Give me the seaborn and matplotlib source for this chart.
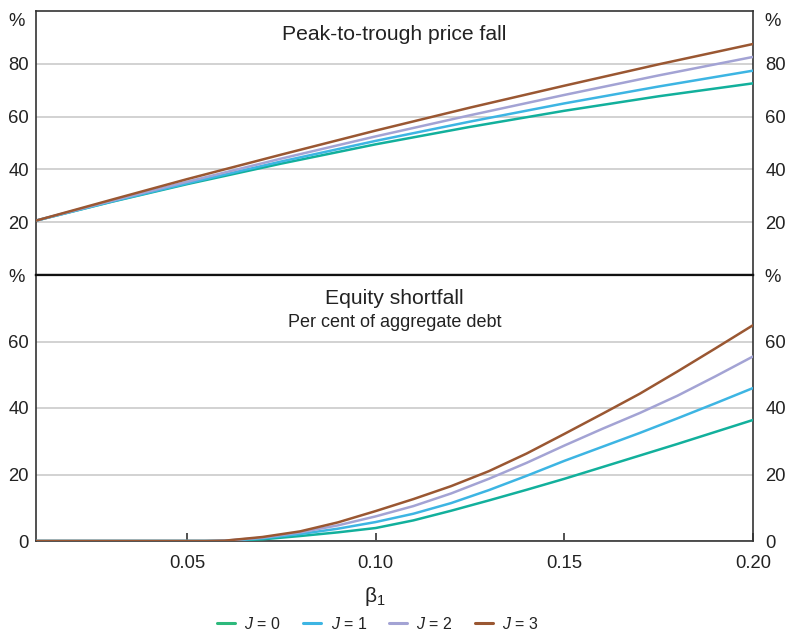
import matplotlib
matplotlib.use("Agg")
import matplotlib.pyplot as plt
import seaborn as sns
import pandas as pd
from matplotlib.lines import Line2D

sns.set_theme(style="white")
plt.rcParams['font.family'] = ['Liberation Sans', 'DejaVu Sans']
plt.rcParams['mathtext.fontset'] = 'custom'
plt.rcParams['mathtext.it'] = 'Liberation Sans:italic'
plt.rcParams['mathtext.rm'] = 'Liberation Sans'

# ---- data ----
series_labels = ["J = 0", "J = 1", "J = 2", "J = 3"]
colors = ["#12b09c", "#3db5e3", "#a3a3d4", "#9a5732"]
legend_colors = ["#2db97c", "#3db5e3", "#a3a3d4", "#9a5732"]

beta_price = [0.01, 0.03, 0.05, 0.075, 0.10, 0.125, 0.15, 0.175, 0.20]
price_j0 = [20.6, 27.7, 34.4, 42.2, 49.5, 56.1, 62.2, 67.7, 72.6]
price_j1 = [20.6, 27.8, 34.7, 43.0, 50.8, 58.1, 65.0, 71.4, 77.4]
price_j2 = [20.6, 28.1, 35.3, 44.1, 52.5, 60.5, 68.2, 75.6, 82.6]
price_j3 = [20.6, 28.5, 36.3, 45.6, 54.7, 63.4, 71.7, 79.8, 87.5]

beta_short = [0.01, 0.055, 0.06, 0.07, 0.08, 0.09, 0.10, 0.11, 0.12, 0.13,
              0.14, 0.15, 0.16, 0.17, 0.18, 0.19, 0.20]
short_j0 = [0, 0, 0.05, 0.5, 1.5, 2.6, 3.9, 6.2, 9.1, 12.2, 15.4, 18.7, 22.2, 25.7, 29.2, 32.8, 36.4]
short_j1 = [0, 0, 0.05, 0.8, 2.1, 3.7, 5.7, 8.2, 11.4, 15.3, 19.6, 24.1, 28.3, 32.5, 36.9, 41.4, 46.0]
short_j2 = [0, 0, 0.1, 1.0, 2.6, 4.7, 7.4, 10.5, 14.3, 18.7, 23.5, 28.7, 33.7, 38.5, 43.7, 49.5, 55.5]
short_j3 = [0, 0, 0.1, 1.2, 2.9, 5.6, 9.0, 12.6, 16.5, 21.0, 26.3, 32.2, 38.2, 44.3, 51.0, 57.9, 64.9]

x_ticks = [0.05, 0.10, 0.15, 0.20]
x_ticklabels = ["0.05", "0.10", "0.15", "0.20"]
top_yticks = [20, 40, 60, 80]
bot_yticks = [0, 20, 40, 60]


def long_df(x, ys):
    rows = []
    for lab, y in zip(series_labels, ys):
        for xi, yi in zip(x, y):
            rows.append({"beta": xi, "val": yi, "J": lab})
    return pd.DataFrame(rows)


df_price = long_df(beta_price, [price_j0, price_j1, price_j2, price_j3])
df_short = long_df(beta_short, [short_j0, short_j1, short_j2, short_j3])
palette = dict(zip(series_labels, colors))

fig = plt.figure(figsize=(7.88, 6.31), dpi=100)
L, R = 36 / 788, 753 / 788
ax1 = fig.add_axes([L, 1 - 275 / 631, R - L, 264 / 631])
ax2 = fig.add_axes([L, 1 - 541 / 631, R - L, 266 / 631])

tick_fs = 13.3
txt_col = "#222222"
spine_col = "#333333"

for ax, df, ylim, yt, pct_y in [(ax1, df_price, (0, 100), top_yticks, 0.960),
                                (ax2, df_short, (0, 80), bot_yticks, 0.990)]:
    sns.lineplot(data=df, x="beta", y="val", hue="J", palette=palette,
                 linewidth=1.8, ax=ax, legend=False, zorder=3)
    ax.set_xlim(0.01, 0.20)
    ax.set_ylim(*ylim)
    ax.set_yticks(yt)
    ax.set_yticklabels([str(v) for v in yt])
    ax.yaxis.grid(True, color="#cfcfcf", linewidth=1.3, zorder=0)
    ax.xaxis.grid(False)
    ax.set_xlabel("")
    ax.set_ylabel("")
    ax.tick_params(axis="y", length=0, labelsize=tick_fs, labelcolor=txt_col,
                   left=False, right=False, labelleft=True, labelright=False, pad=5)
    for s in ax.spines.values():
        s.set_color(spine_col)
        s.set_linewidth(1.2)
    # right-side labels via twin axis
    tw = ax.twinx()
    tw.set_ylim(*ylim)
    tw.set_yticks(yt)
    tw.set_yticklabels([str(v) for v in yt])
    tw.tick_params(axis="y", length=0, labelsize=tick_fs, labelcolor=txt_col, pad=9)
    tw.grid(False)
    for s in tw.spines.values():
        s.set_visible(False)
    # percent labels
    ax.text(-0.0272, pct_y, "%", transform=ax.transAxes,
            ha="center", va="center", fontsize=tick_fs, color=txt_col)
    ax.text(1.0279, pct_y, "%", transform=ax.transAxes,
            ha="center", va="center", fontsize=tick_fs, color=txt_col)

ax1.spines["bottom"].set_linewidth(1.6)
ax1.spines["bottom"].set_color("#111111")
ax2.spines["top"].set_linewidth(1.6)
ax2.spines["top"].set_color("#111111")

ax1.set_xticks([])
ax2.set_xticks(x_ticks)
ax2.set_xticklabels(x_ticklabels)
ax2.tick_params(axis="x", direction="in", length=6, width=1.2, color=spine_col,
                labelsize=tick_fs, pad=10, bottom=True, labelcolor=txt_col)

ax1.text(0.5, 0.912, "Peak-to-trough price fall", transform=ax1.transAxes,
         ha="center", va="center", fontsize=15.2, color=txt_col)
ax2.text(0.5, 0.910, "Equity shortfall", transform=ax2.transAxes,
         ha="center", va="center", fontsize=15.2, color=txt_col)
ax2.text(0.5, 0.820, "Per cent of aggregate debt", transform=ax2.transAxes,
         ha="center", va="center", fontsize=13.0, color=txt_col)

fig.text(0.5 * (L + R) - 20 / 788, 1 - 597 / 631, "β$_{1}$", ha="center", va="center",
         fontsize=15, color=txt_col)

handles = [Line2D([0], [0], color=c, lw=2.2) for c in legend_colors]
labels = ["$J$ = 0", "$J$ = 1", "$J$ = 2", "$J$ = 3"]
fig.legend(handles, labels, loc="center", bbox_to_anchor=(378 / 788, 1 - 624 / 631),
           ncol=4, frameon=False, fontsize=11.5, handlelength=1.1, handletextpad=0.6,
           columnspacing=1.4, borderpad=0.1, labelcolor=txt_col)

fig.savefig("out.png", dpi=100)
